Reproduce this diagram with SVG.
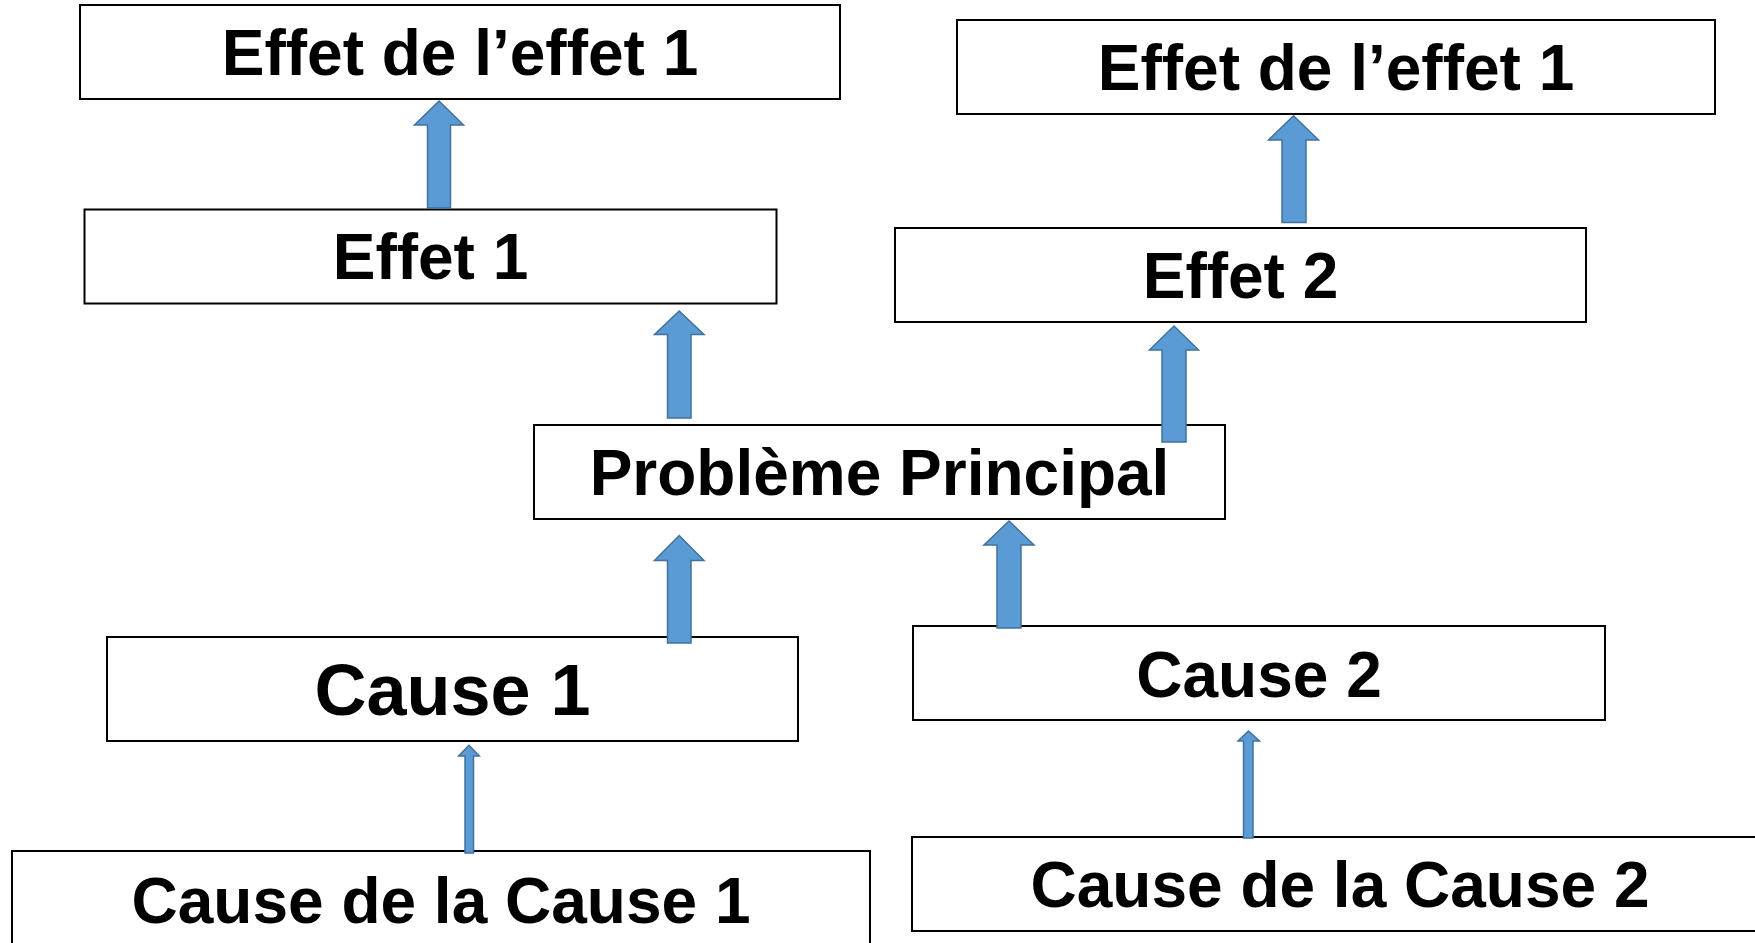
<svg xmlns="http://www.w3.org/2000/svg" width="1755" height="943" viewBox="0 0 1755 943">
<style>
.box{fill:#ffffff;stroke:#000000;stroke-width:2}
.t{font-family:"Liberation Sans",Arial,sans-serif;font-weight:bold;font-size:64px;fill:#000000;text-anchor:middle}
.big{font-size:72px}
.arr{fill:#5B9BD5;stroke:#41719C;stroke-width:1.5;stroke-linejoin:miter}
</style>
<rect width="1755" height="943" fill="#ffffff"/>
<g id="effet-effet1-left">
<rect class="box" x="80" y="5" width="760" height="94"/>
<text class="t" x="460" y="75">Effet de l’effet 1</text>
</g>
<g id="effet-effet1-right">
<rect class="box" x="957" y="20" width="758" height="94"/>
<text class="t" x="1336" y="90">Effet de l’effet 1</text>
</g>
<g id="effet1">
<rect class="box" x="84.5" y="209.5" width="692" height="94"/>
<text class="t" x="430.5" y="279">Effet 1</text>
</g>
<g id="effet2">
<rect class="box" x="895" y="228" width="691" height="94"/>
<text class="t" x="1240.5" y="298">Effet 2</text>
</g>
<g id="probleme">
<rect class="box" x="534" y="425" width="691" height="94"/>
<text class="t" x="879.5" y="495">Problème Principal</text>
</g>
<g id="cause1">
<rect class="box" x="107" y="637" width="691" height="104"/>
<text class="t big" x="452.5" y="714.5">Cause 1</text>
</g>
<g id="cause2">
<rect class="box" x="913" y="626" width="692" height="94"/>
<text class="t" x="1259" y="697">Cause 2</text>
</g>
<g id="cause-cause1">
<rect class="box" x="12" y="851" width="858" height="110"/>
<text class="t" x="441" y="923">Cause de la Cause 1</text>
</g>
<g id="cause-cause2">
<rect class="box" x="912" y="837" width="870" height="94"/>
<text class="t" x="1340" y="907">Cause de la Cause 2</text>
</g>
<g id="connectors">
<polygon class="arr" points="427.5,208 427.5,125 414.5,125 439,101 463.5,125 450.5,125 450.5,208"/>
<polygon class="arr" points="667.5,418 667.5,334.5 654.5,334.5 679.2,311 704,334.5 691,334.5 691,418"/>
<polygon class="arr" points="1282,222.5 1282,140 1268.5,140 1293.5,115.7 1318.5,140 1306,140 1306,222.5"/>
<polygon class="arr" points="1162,442 1162,350 1149.5,350 1174,326 1198.5,350 1186,350 1186,442"/>
<polygon class="arr" points="667.5,643 667.5,560.5 654.5,560.5 679.2,535.5 704,560.5 691,560.5 691,643"/>
<polygon class="arr" points="997,628 997,545 984,545 1009,521 1034,545 1021,545 1021,628"/>
<polygon class="arr" points="465,853 465,756 458.6,756 469,745.3 479.3,756 473.5,756 473.5,853"/>
<polygon class="arr" points="1243.5,838 1243.5,741 1238,741 1248.5,731 1259.5,741 1253,741 1253,838"/>
</g>
</svg>
